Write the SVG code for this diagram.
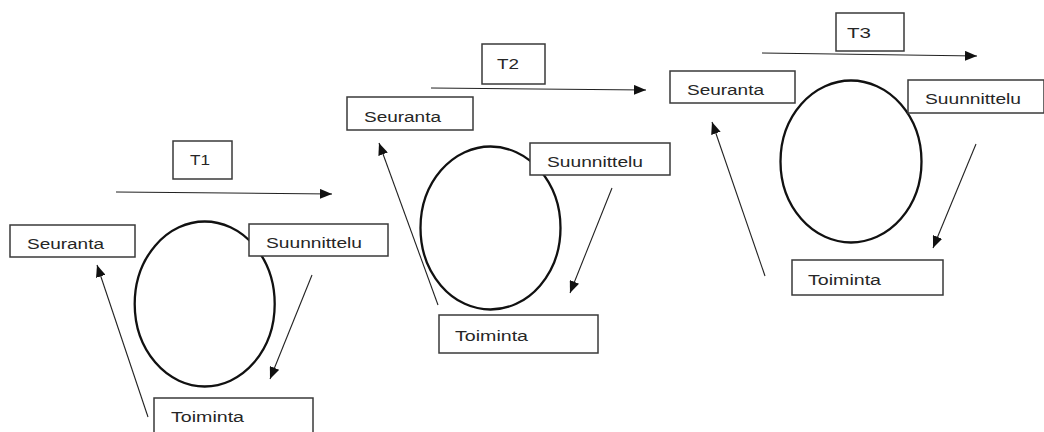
<svg xmlns="http://www.w3.org/2000/svg" width="1044" height="432" viewBox="0 0 1044 432">
<style>
.box{fill:#fff;stroke:#3a3a3a;stroke-width:1.5}
.cyc{fill:none;stroke:#111;stroke-width:2.3}
.lbl{font-family:"Liberation Sans",Arial,sans-serif;font-size:15.5px;fill:#262626}
.con{stroke:#222;stroke-width:1.1;fill:none;marker-end:url(#ah)}
</style>
<defs>
<marker id="ah" viewBox="0 0 12 10" markerWidth="12" markerHeight="10" markerUnits="userSpaceOnUse" refX="12" refY="5" orient="auto">
<path d="M0,0 L12,5 L0,10 Z" fill="#111"/>
</marker>
</defs>
<rect width="1044" height="432" fill="#fff"/>
<g id="cycles">
<ellipse class="cyc" cx="204.7" cy="304" rx="70" ry="82.5"/>
<ellipse class="cyc" cx="490.5" cy="228" rx="70" ry="81.5"/>
<ellipse class="cyc" cx="851" cy="161.5" rx="70.5" ry="81"/>
</g>
<g id="connectors">
<line class="con" x1="116" y1="192" x2="332" y2="194"/>
<line class="con" x1="148" y1="417" x2="97" y2="265"/>
<line class="con" x1="312" y1="275" x2="270" y2="379"/>
<line class="con" x1="431" y1="88" x2="646" y2="90"/>
<line class="con" x1="438" y1="305" x2="379" y2="143"/>
<line class="con" x1="612" y1="188" x2="570" y2="293"/>
<line class="con" x1="762" y1="53" x2="977" y2="56"/>
<line class="con" x1="765" y1="276" x2="712" y2="122"/>
<line class="con" x1="976" y1="144" x2="933" y2="248"/>
</g>
<g id="t1"><rect class="box" x="173" y="141" width="59" height="38"/><text class="lbl" x="190" y="164.5" textLength="20" lengthAdjust="spacingAndGlyphs">T1</text></g>
<g id="seuranta1"><rect class="box" x="10" y="225" width="125" height="32"/><text class="lbl" x="27" y="248.5" textLength="77" lengthAdjust="spacingAndGlyphs">Seuranta</text></g>
<g id="suunnittelu1"><rect class="box" x="249" y="224" width="139" height="32"/><text class="lbl" x="266" y="247.5" textLength="96" lengthAdjust="spacingAndGlyphs">Suunnittelu</text></g>
<g id="toiminta1"><rect class="box" x="154" y="398" width="159" height="40"/><text class="lbl" x="171" y="422" textLength="73" lengthAdjust="spacingAndGlyphs">Toiminta</text></g>
<g id="t2"><rect class="box" x="482" y="44" width="63" height="40"/><text class="lbl" x="497" y="68.5" textLength="22" lengthAdjust="spacingAndGlyphs">T2</text></g>
<g id="seuranta2"><rect class="box" x="347" y="97" width="126" height="33"/><text class="lbl" x="364" y="121.5" textLength="77" lengthAdjust="spacingAndGlyphs">Seuranta</text></g>
<g id="suunnittelu2"><rect class="box" x="530" y="143" width="140" height="32"/><text class="lbl" x="547" y="166.5" textLength="96" lengthAdjust="spacingAndGlyphs">Suunnittelu</text></g>
<g id="toiminta2"><rect class="box" x="439" y="315" width="159" height="38"/><text class="lbl" x="455" y="340.5" textLength="73" lengthAdjust="spacingAndGlyphs">Toiminta</text></g>
<g id="t3"><rect class="box" x="836" y="13" width="68" height="38"/><text class="lbl" x="847" y="37.5" textLength="24" lengthAdjust="spacingAndGlyphs">T3</text></g>
<g id="seuranta3"><rect class="box" x="670" y="71" width="125" height="32"/><text class="lbl" x="687" y="94.5" textLength="77" lengthAdjust="spacingAndGlyphs">Seuranta</text></g>
<g id="suunnittelu3"><rect class="box" x="908" y="80" width="136" height="33"/><text class="lbl" x="925" y="103.5" textLength="96" lengthAdjust="spacingAndGlyphs">Suunnittelu</text></g>
<g id="toiminta3"><rect class="box" x="792" y="260" width="151" height="35"/><text class="lbl" x="808" y="284.5" textLength="73" lengthAdjust="spacingAndGlyphs">Toiminta</text></g>
</svg>
